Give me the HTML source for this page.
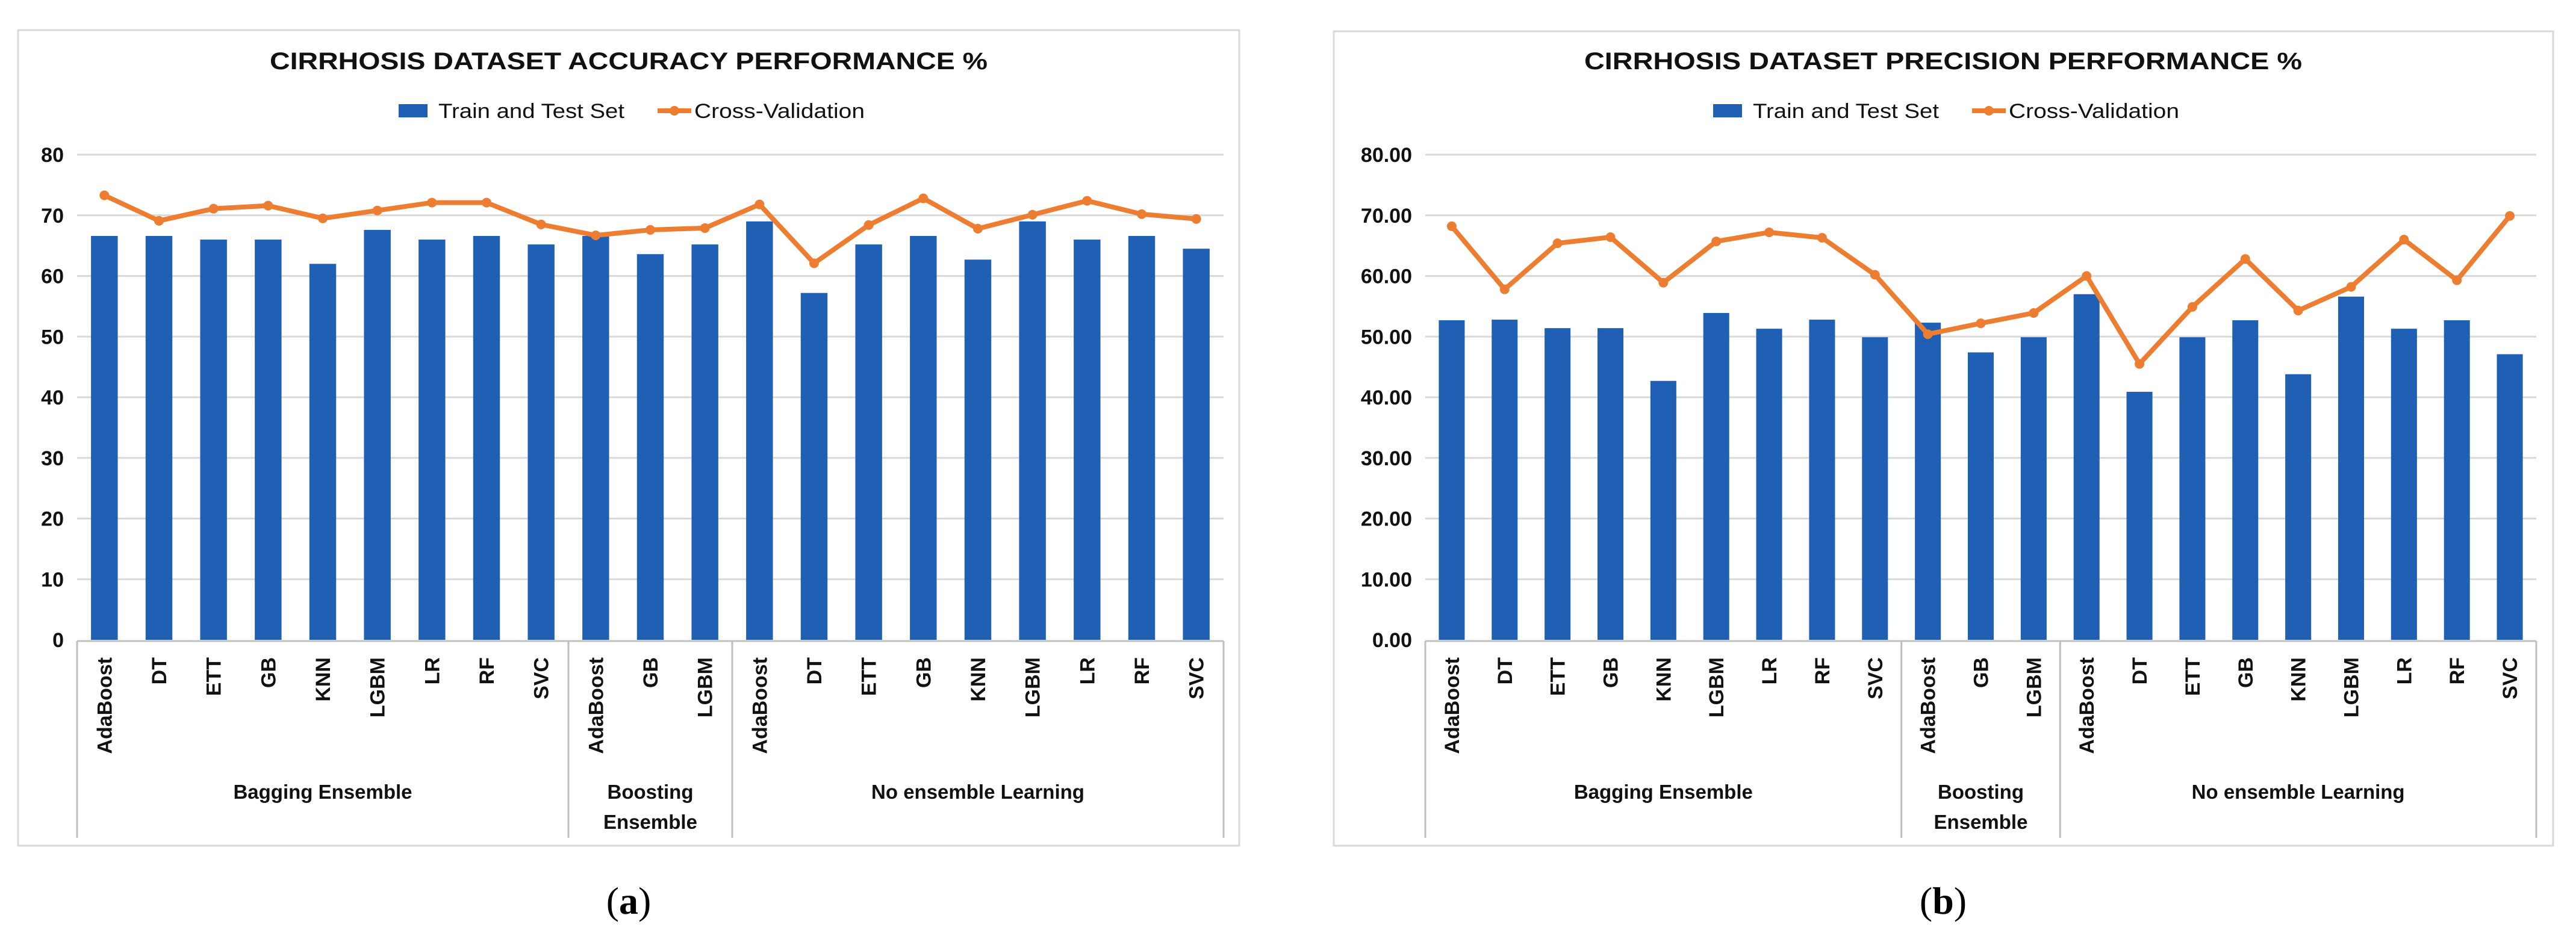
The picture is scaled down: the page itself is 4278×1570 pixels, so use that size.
<!DOCTYPE html>
<html><head><meta charset="utf-8"><style>
html,body{margin:0;padding:0;background:#fff;}
svg{display:block;font-family:"Liberation Sans",sans-serif;}
</style></head><body>
<svg id="svg" width="4278" height="1570" viewBox="0 0 4278 1570" xmlns="http://www.w3.org/2000/svg"></svg>
<script>
const categories = ["AdaBoost","DT","ETT","GB","KNN","LGBM","LR","RF","SVC","AdaBoost","GB","LGBM","AdaBoost","DT","ETT","GB","KNN","LGBM","LR","RF","SVC"];
const groupNames = [["Bagging Ensemble"],["Boosting","Ensemble"],["No ensemble Learning"]];
const groupSizes = [9,3,9];
const accuracyBars = [66.6,66.6,66.0,66.0,62.0,67.6,66.0,66.6,65.2,66.6,63.6,65.2,69.0,57.2,65.2,66.6,62.7,69.0,66.0,66.6,64.5];
const accuracyLine = [73.3,69.1,71.1,71.6,69.5,70.8,72.1,72.1,68.5,66.7,67.6,67.9,71.8,62.1,68.4,72.8,67.8,70.1,72.4,70.2,69.4];
const precisionBars = [52.7,52.8,51.4,51.4,42.7,53.9,51.3,52.8,49.9,52.3,47.4,49.9,57.0,40.9,49.9,52.7,43.8,56.6,51.3,52.7,47.1];
const precisionLine = [68.2,57.8,65.4,66.4,58.9,65.7,67.2,66.3,60.2,50.4,52.2,53.9,60.0,45.5,54.9,62.8,54.3,58.2,66.0,59.3,69.9];
const accTicks = ["0","10","20","30","40","50","60","70","80"];
const precTicks = ["0.00","10.00","20.00","30.00","40.00","50.00","60.00","70.00","80.00"];

const NS="http://www.w3.org/2000/svg";
const svg=document.getElementById('svg');
function mk(tag,attrs,parent,text){const e=document.createElementNS(NS,tag);for(const k in attrs)e.setAttribute(k,attrs[k]);if(text!==undefined)e.textContent=text;(parent||svg).appendChild(e);return e;}

function chart(cfg){
  const g=mk('g',{});
  
  
  const fr=mk('rect',{x:cfg.fx1,y:cfg.fy1,width:cfg.fx2-cfg.fx1,height:cfg.fy2-cfg.fy1,fill:'#fff',stroke:'#d9d9d9','stroke-width':3},g);
  
  
  const y0=1063, y80=257;
  const yS=v=>y0-(v/80)*(y0-y80);
  const n=categories.length, step=(cfg.px2-cfg.px1)/n;
  const xS=i=>cfg.px1+step*(i+0.5);
  // gridlines & ticks
  cfg.ticks.forEach((t,i)=>{
    const v=i*10, y=yS(v);
    if(i>0){const gl=mk('line',{x1:cfg.px1,x2:cfg.px2,y1:y,y2:y,stroke:'#d9d9d9','stroke-width':3},g);
      
      }
    const tl=mk('text',{x:cfg.px1-22,y:y+12,'text-anchor':'end','font-size':34,'font-weight':'bold',fill:'#111'},g,t);
    
    
  });
  // bars
  cfg.bars.forEach((v,i)=>{
    const b=mk('rect',{x:xS(i)-step*0.245,y:yS(v),width:step*0.49,height:y0-yS(v),fill:'#1f60b5'},g);
    
    
  });
  // axis
  const ax=mk('line',{x1:cfg.px1,x2:cfg.px2,y1:y0+2,y2:y0+2,stroke:'#bfbfbf','stroke-width':3},g);
  
  
  // group dividers
  let idx=0; const bounds=[0];
  groupSizes.forEach(s=>{idx+=s;bounds.push(idx);});
  bounds.forEach(b=>{
    const x=cfg.px1+step*b;
    const d=mk('line',{x1:x,x2:x,y1:y0+2,y2:1392,stroke:'#bfbfbf','stroke-width':3},g);
    
    
  });
  // category labels
  categories.forEach((c,i)=>{
    const x=xS(i)+12, y=1092;
    const t=mk('text',{x:x,y:y,transform:`rotate(-90 ${x} ${y})`,'text-anchor':'end','font-size':34,'font-weight':'bold',fill:'#111'},g,c);
    
    
  });
  // group labels
  groupNames.forEach((lines,gi)=>{
    const cx=cfg.px1+step*(bounds[gi]+bounds[gi+1])/2;
    lines.forEach((ln,li)=>{
      const t=mk('text',{x:cx,y:1327+li*50,'text-anchor':'middle','font-size':33,'font-weight':'bold',fill:'#111'},g,ln);
      
      
    });
  });
  // line
  const pts=cfg.line.map((v,i)=>xS(i)+','+yS(v)).join(' ');
  const pl=mk('polyline',{points:pts,fill:'none',stroke:'#ed7d31','stroke-width':8,'stroke-linejoin':'round'},g);
  
  
  cfg.line.forEach((v,i)=>{
    const c=mk('circle',{cx:xS(i),cy:yS(v),r:8,fill:'#ed7d31'},g);
    
    
  });
  // title
  const tt=mk('text',{x:cfg.tx,y:115,'text-anchor':'middle','font-size':40,'font-weight':'bold',fill:'#111',textLength:cfg.tw,lengthAdjust:'spacingAndGlyphs'},g,cfg.title);
  
  
  // legend
  const L=cfg.lx;
  const lg=mk('g',{},g);
  
  
  const sw=mk('rect',{x:L,y:173,width:48,height:22,fill:'#1f60b5'},lg);
  
  
  const t1=mk('text',{x:L+66,y:196,'font-size':34,fill:'#111',textLength:309,lengthAdjust:'spacingAndGlyphs'},lg,'Train and Test Set');
  
  
  const ll=mk('line',{x1:L+430,x2:L+486,y1:184,y2:184,stroke:'#ed7d31','stroke-width':8},lg);
  
  
  const lc=mk('circle',{cx:L+458,cy:184,r:8,fill:'#ed7d31'},lg);
  
  
  const t2=mk('text',{x:L+491,y:196,'font-size':34,fill:'#111',textLength:283,lengthAdjust:'spacingAndGlyphs'},lg,'Cross-Validation');
  
  
  // caption
  const cap=mk('text',{x:cfg.tx,y:1518,'text-anchor':'middle','font-size':64,fill:'#000','font-family':'Liberation Serif, serif'},svg);
  
  
  mk('tspan',{},cap,'(');
  mk('tspan',{'font-weight':'bold'},cap,cfg.cap);
  mk('tspan',{},cap,')');
}
chart({name:'accuracy-chart',fx1:30,fy1:50,fx2:2058,fy2:1405,px1:128,px2:2032,ticks:accTicks,bars:accuracyBars,line:accuracyLine,
  title:'CIRRHOSIS DATASET ACCURACY PERFORMANCE %',tx:1044,tw:1192,lx:662,cap:'a'});
chart({name:'precision-chart',fx1:2215,fy1:52,fx2:4240,fy2:1405,px1:2367,px2:4212,ticks:precTicks,bars:precisionBars,line:precisionLine,
  title:'CIRRHOSIS DATASET PRECISION PERFORMANCE %',tx:3227,tw:1192,lx:2845,cap:'b'});
</script>
</body></html>
